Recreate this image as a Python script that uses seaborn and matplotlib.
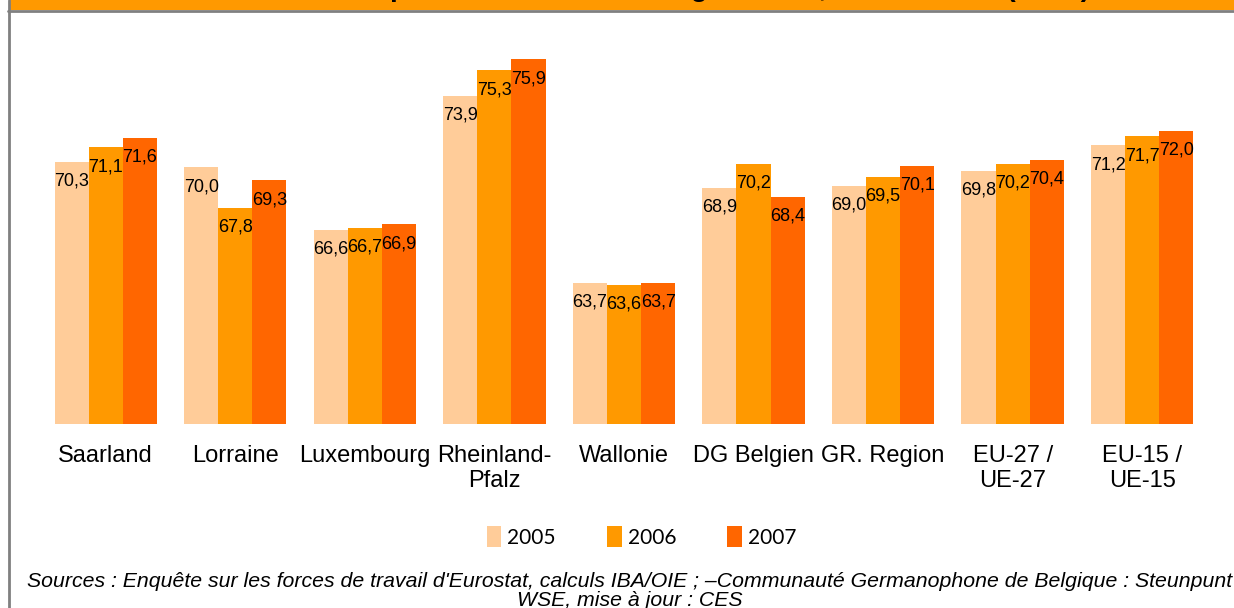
import pandas as pd
import matplotlib.pyplot as plt
import seaborn as sns
from matplotlib.patches import Rectangle
from matplotlib.lines import Line2D

regions = ['Saarland', 'Lorraine', 'Luxembourg', 'Rheinland-\nPfalz', 'Wallonie',
           'DG Belgien', 'GR. Region', 'EU-27 /\nUE-27', 'EU-15 /\nUE-15']
years = ['2005', '2006', '2007']
v2005 = [70.3, 70.0, 66.6, 73.9, 63.7, 68.9, 69.0, 69.8, 71.2]
v2006 = [71.1, 67.8, 66.7, 75.3, 63.6, 70.2, 69.5, 70.2, 71.7]
v2007 = [71.6, 69.3, 66.9, 75.9, 63.7, 68.4, 70.1, 70.4, 72.0]
colors = ['#FFCC99', '#FF9900', '#FF6600']

df = pd.DataFrame({
    'region': regions * 3,
    'year': [y for y in years for _ in regions],
    'value': v2005 + v2006 + v2007,
})

sns.set_style('white')
plt.rcParams['font.family'] = ['Liberation Sans', 'DejaVu Sans']
plt.rcParams['text.color'] = 'black'
plt.rcParams['xtick.color'] = 'black'

fig = plt.figure(figsize=(12.34, 6.08), dpi=100)
ax = fig.add_axes([0.0332, 0.3026, 0.9449, 0.6481])

sns.barplot(data=df, x='region', y='value', hue='year', palette=colors,
            width=0.79, saturation=1, linewidth=0, ax=ax, legend=True)

ax.set_ylim(56, 77.5)
ax.set_xlim(-0.5, len(regions) - 0.5)
ax.set_xlabel('')
ax.set_ylabel('')
ax.set_yticks([])
sns.despine(ax=ax, left=True, bottom=True)
ax.tick_params(axis='x', length=0, pad=15, labelsize=17, labelcolor='black')

for cont, vals in zip(ax.containers, [v2005, v2006, v2007]):
    ax.bar_label(cont, labels=[f'{v:.1f}'.replace('.', ',') for v in vals],
                 padding=-20, fontsize=13, color='black')

handles, labels = ax.get_legend_handles_labels()
ax.get_legend().remove()
fig.legend(handles, labels, loc='center', bbox_to_anchor=(0.52, 0.1168), ncol=3,
           frameon=False, prop={'family': 'Lato', 'size': 15},
           handlelength=0.7, handleheight=1.2, handletextpad=0.3, columnspacing=2.45)

# frame: orange title band and gray borders
fig.add_artist(Rectangle((10 / 1234, 1 - 10 / 608), 1, 10 / 608, transform=fig.transFigure,
                         facecolor='#FF9900', edgecolor='none', zorder=0))
fig.add_artist(Line2D([8 / 1234, 1], [1 - 11 / 608, 1 - 11 / 608], transform=fig.transFigure,
                      color='#808080', linewidth=2))
fig.add_artist(Line2D([9 / 1234, 9 / 1234], [0, 1], transform=fig.transFigure,
                      color='#808080', linewidth=2))
# title sits mostly above the visible area, only its lower edge shows
fig.text(0.545, 1 + 4 / 608, "Taux d'emploi dans la Grande Région 2005, 2006 et 2007 (en %)",
         ha='center', va='baseline', fontsize=20, fontweight='bold', zorder=5)

fig.text(0.510, 1 - 572 / 608,
         "Sources : Enquête sur les forces de travail d'Eurostat, calculs IBA/OIE ; "
         "–Communauté Germanophone de Belgique : Steunpunt\nWSE, mise à jour : CES",
         ha='center', va='top', fontsize=15.3, style='italic', linespacing=1.0)

fig.savefig('out.png', dpi=100)
